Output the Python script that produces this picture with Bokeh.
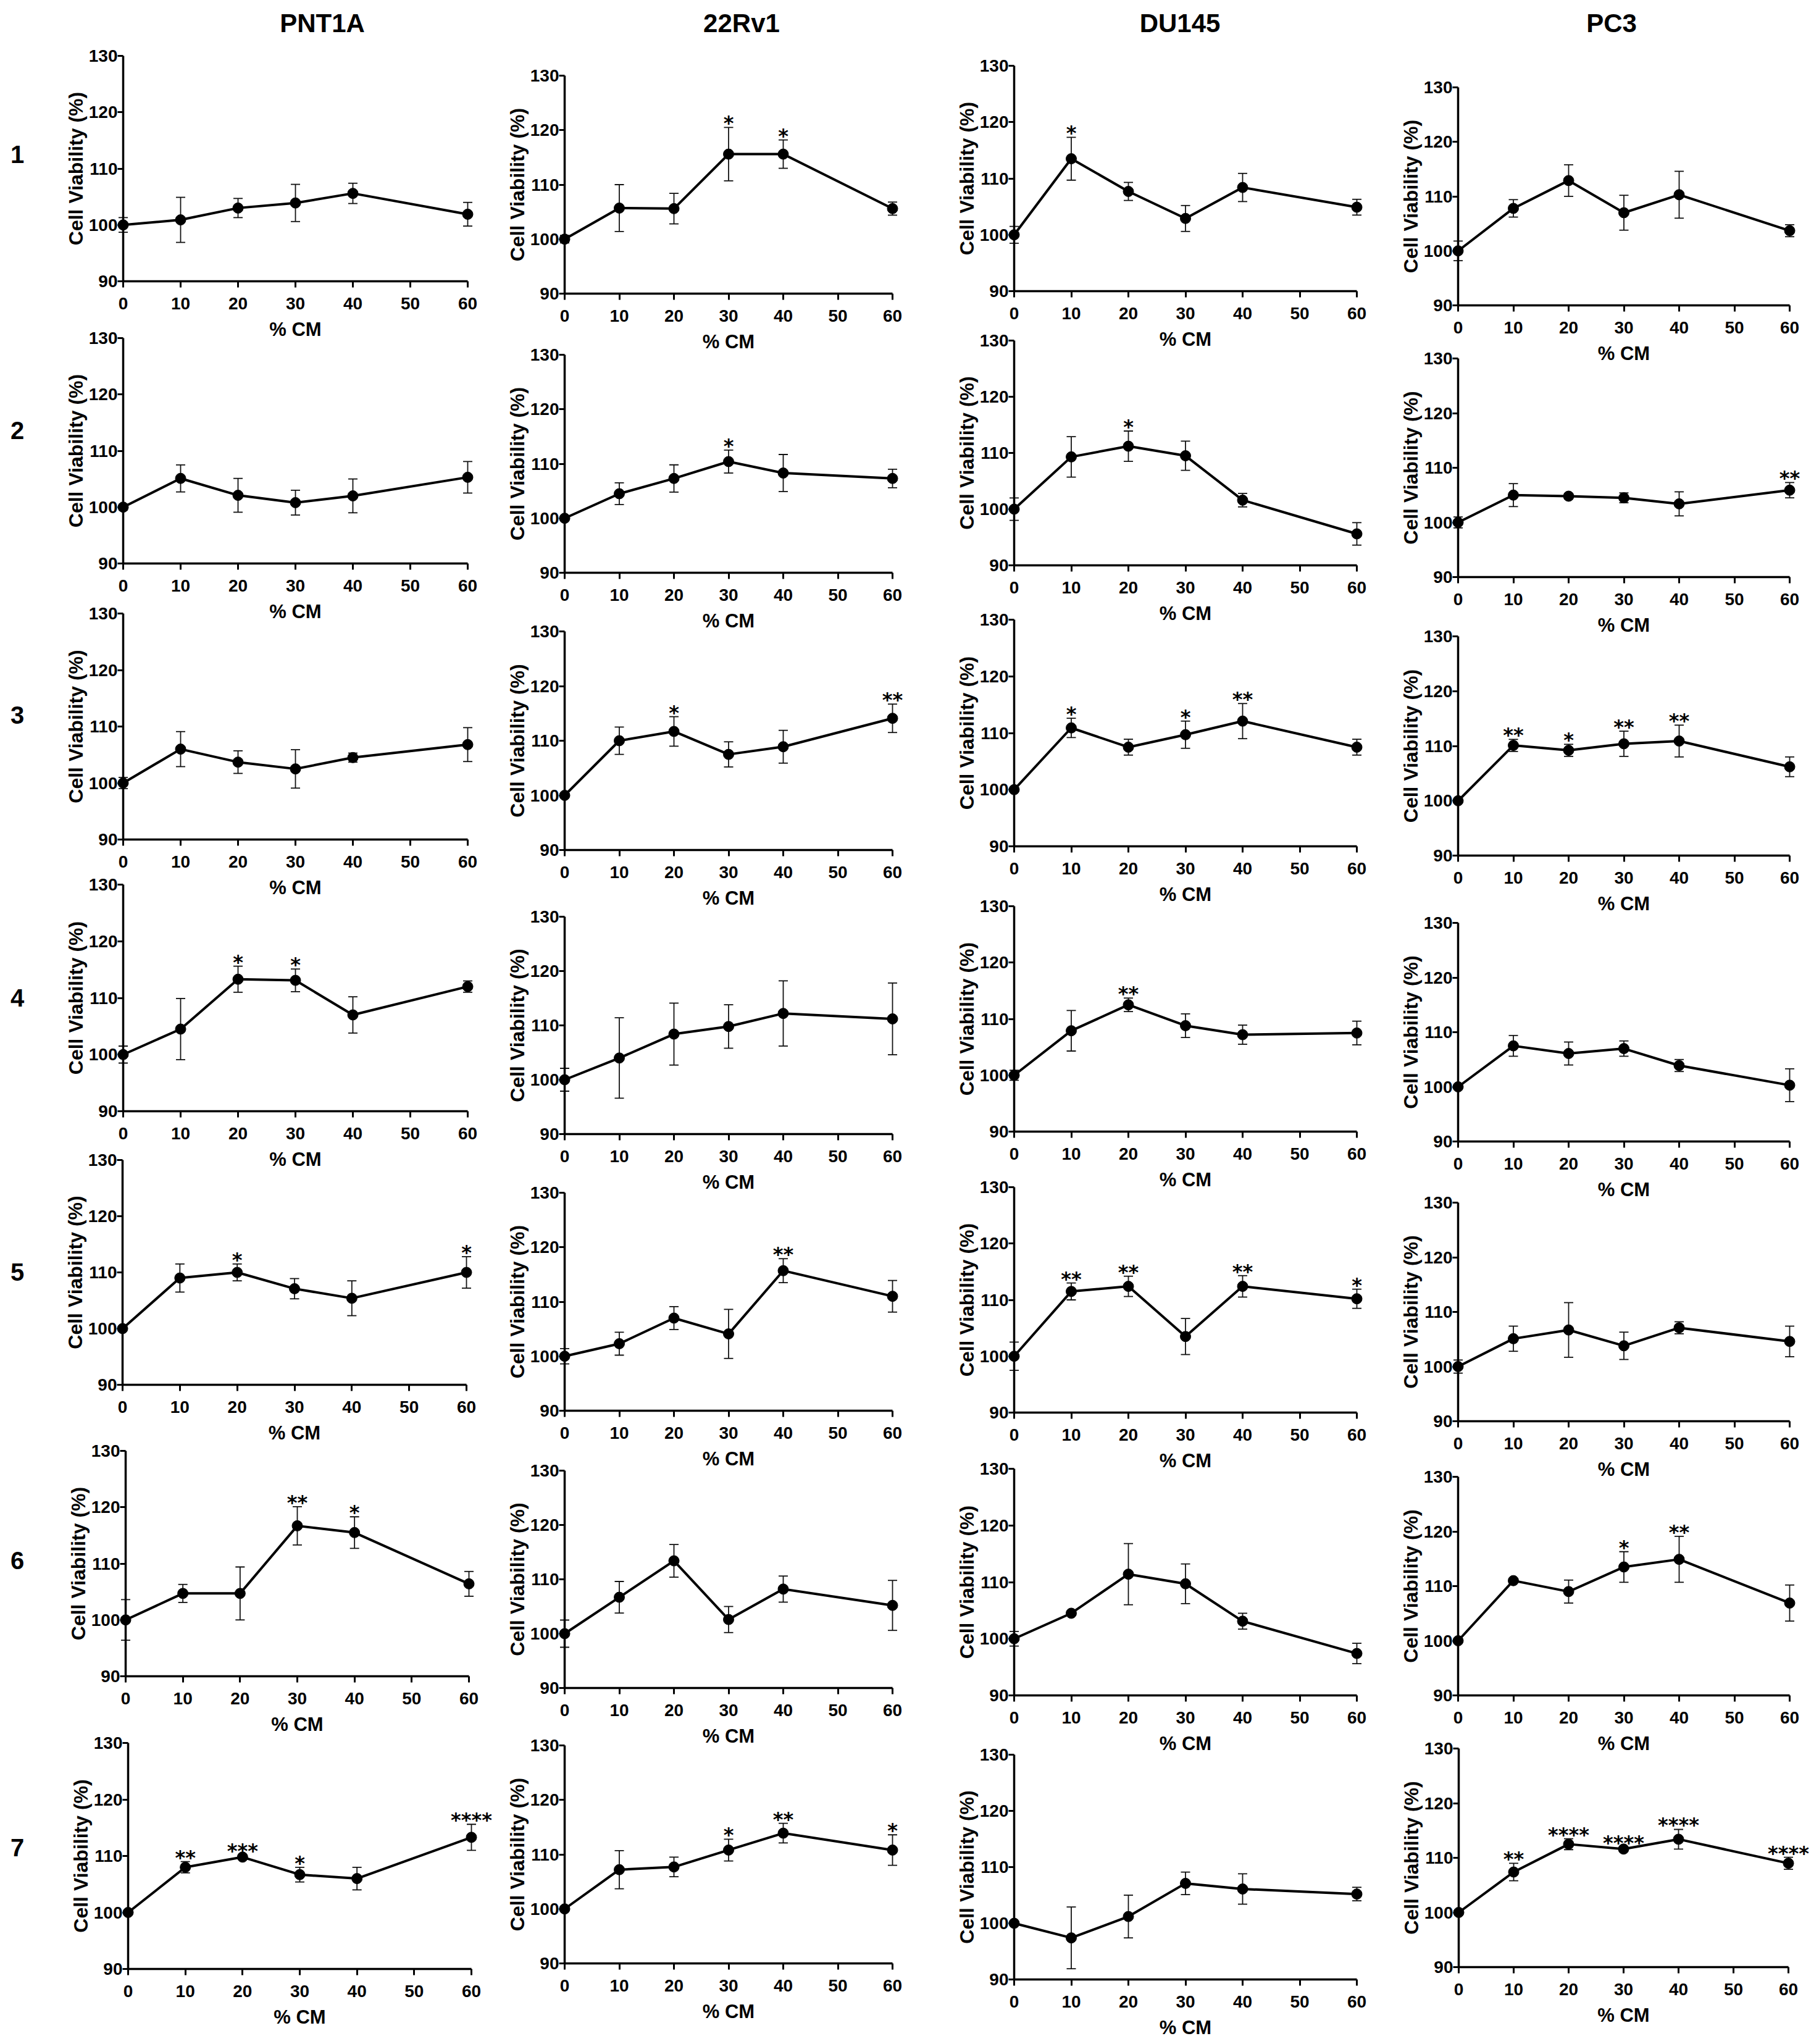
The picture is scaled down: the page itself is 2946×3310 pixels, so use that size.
from bokeh.plotting import figure
from bokeh.layouts import row, column
from bokeh.models import ColumnDataSource, Whisker, TeeHead, FixedTicker, Range1d, Div
from bokeh.embed import file_html
from bokeh.resources import INLINE
from bokeh.core.properties import value

# ---------------- data ----------------
cell_lines = ["PNT1A", "22Rv1", "DU145", "PC3"]
row_labels = ["1", "2", "3", "4", "5", "6", "7"]
cm_percent = [0, 10, 20, 30, 40, 60]
x_tick_values = [0, 10, 20, 30, 40, 50, 60]
y_tick_values = [90, 100, 110, 120, 130]
x_axis_label = "% CM"
y_axis_label = "Cell Viability (%)"

pnt1a_mean = [
    [100, 100.9, 103.0, 103.9, 105.6, 101.9],
    [100, 105.1, 102.1, 100.8, 102.0, 105.3],
    [100, 106.0, 103.7, 102.5, 104.5, 106.8],
    [100, 104.5, 113.3, 113.1, 107.0, 112.0],
    [100, 109.0, 110.0, 107.1, 105.4, 110.0],
    [100, 104.7, 104.7, 116.7, 115.5, 106.4],
    [100, 108.0, 109.8, 106.7, 106.0, 113.3],
]
pnt1a_err = [
    [1.3, 4.0, 1.7, 3.3, 1.8, 2.1],
    [0.5, 2.4, 3.0, 2.2, 3.0, 2.8],
    [1.0, 3.1, 2.0, 3.4, 0.8, 3.0],
    [1.5, 5.4, 2.3, 2.0, 3.2, 1.0],
    [0.3, 2.5, 1.5, 1.8, 3.1, 2.8],
    [3.6, 1.6, 4.7, 3.4, 2.8, 2.2],
    [0.3, 1.0, 0.4, 1.3, 2.0, 2.3],
]
pnt1a_sig = [
    ["", "", "", "", "", ""],
    ["", "", "", "", "", ""],
    ["", "", "", "", "", ""],
    ["", "", "*", "*", "", ""],
    ["", "", "*", "", "", "*"],
    ["", "", "", "**", "*", ""],
    ["", "**", "***", "*", "", "****"],
]

rv1_mean = [
    [100, 105.7, 105.6, 115.6, 115.6, 105.6],
    [100, 104.5, 107.3, 110.4, 108.3, 107.3],
    [100, 110.0, 111.7, 107.5, 108.9, 114.1],
    [100, 104.0, 108.4, 109.8, 112.2, 111.2],
    [100, 102.3, 107.0, 104.1, 115.7, 111.0],
    [100, 106.7, 113.4, 102.6, 108.2, 105.2],
    [100, 107.2, 107.7, 110.8, 113.9, 110.8],
]
rv1_err = [
    [0.7, 4.3, 2.8, 4.9, 2.6, 1.2],
    [0.3, 2.0, 2.5, 2.1, 3.4, 1.7],
    [0.3, 2.5, 2.7, 2.3, 3.0, 2.6],
    [2.1, 7.4, 5.7, 4.0, 6.0, 6.6],
    [1.4, 2.1, 2.1, 4.5, 2.2, 2.9],
    [2.5, 2.9, 3.0, 2.4, 2.4, 4.6],
    [0.3, 3.5, 1.8, 2.0, 1.8, 2.8],
]
rv1_sig = [
    ["", "", "", "*", "*", ""],
    ["", "", "", "*", "", ""],
    ["", "", "*", "", "", "**"],
    ["", "", "", "", "", ""],
    ["", "", "", "", "**", ""],
    ["", "", "", "", "", ""],
    ["", "", "", "*", "**", "*"],
]

du145_mean = [
    [100, 113.5, 107.7, 102.9, 108.4, 104.9],
    [100, 109.3, 111.2, 109.5, 101.6, 95.6],
    [100, 110.9, 107.5, 109.7, 112.1, 107.5],
    [100, 107.9, 112.5, 108.8, 107.2, 107.5],
    [100, 111.5, 112.4, 103.5, 112.4, 110.2],
    [100, 104.5, 111.4, 109.7, 103.1, 97.4],
    [100, 97.4, 101.2, 107.1, 106.1, 105.2],
]
du145_err = [
    [1.5, 3.8, 1.6, 2.3, 2.5, 1.4],
    [2.0, 3.6, 2.7, 2.6, 1.2, 2.0],
    [0.3, 1.7, 1.4, 2.4, 3.1, 1.4],
    [0.9, 3.6, 1.2, 2.1, 1.7, 2.1],
    [2.5, 1.5, 1.8, 3.2, 1.9, 1.7],
    [1.3, 0.4, 5.4, 3.5, 1.4, 1.8],
    [0.3, 5.5, 3.8, 2.0, 2.7, 1.2],
]
du145_sig = [
    ["", "*", "", "", "", ""],
    ["", "", "*", "", "", ""],
    ["", "*", "", "*", "**", ""],
    ["", "", "**", "", "", ""],
    ["", "**", "**", "", "**", "*"],
    ["", "", "", "", "", ""],
    ["", "", "", "", "", ""],
]

pc3_mean = [
    [100, 107.8, 112.9, 107.0, 110.3, 103.7],
    [100, 105.0, 104.8, 104.5, 103.4, 105.9],
    [100, 110.1, 109.2, 110.4, 110.9, 106.2],
    [100, 107.5, 106.1, 107.0, 103.9, 100.3],
    [100, 105.1, 106.7, 103.8, 107.1, 104.6],
    [100, 111.0, 109.0, 113.5, 114.9, 106.9],
    [100, 107.4, 112.5, 111.6, 113.4, 109.0],
]
pc3_err = [
    [1.8, 1.6, 2.9, 3.2, 4.3, 1.1],
    [1.0, 2.1, 0.5, 0.9, 2.2, 1.4],
    [0.3, 1.1, 1.1, 2.3, 2.9, 1.8],
    [0.3, 1.9, 2.1, 1.4, 1.1, 3.0],
    [1.2, 2.3, 5.0, 2.5, 1.1, 2.8],
    [0.3, 0.4, 2.1, 2.8, 4.2, 3.3],
    [0.3, 1.6, 1.0, 0.4, 1.8, 1.1],
]
pc3_sig = [
    ["", "", "", "", "", ""],
    ["", "", "", "", "", "**"],
    ["", "**", "*", "**", "**", ""],
    ["", "", "", "", "", ""],
    ["", "", "", "", "", ""],
    ["", "", "", "*", "**", ""],
    ["", "**", "****", "****", "****", "****"],
]

all_mean = [pnt1a_mean, rv1_mean, du145_mean, pc3_mean]
all_err = [pnt1a_err, rv1_err, du145_err, pc3_err]
all_sig = [pnt1a_sig, rv1_sig, du145_sig, pc3_sig]

# ---------------- layout geometry (page pixels) ----------------
PAGE = 8
RIGHT_EDGE = 2938
BOTTOM_EDGE = 3302
BOX_LEFT_PAD = 115
BOX_RIGHT_PAD = 36

axis_x0 = [[207, 207, 207, 207, 206, 211, 215], [922] * 7, [1650] * 7, [2369] * 6 + [2370]]
axis_x60 = [[765, 765, 765, 765, 763, 767, 771], [1453] * 7, [2205] * 7, [2906] * 6 + [2904]]
axis_y130 = [[98, 555, 1001, 1440, 1886, 2357, 2830],
             [130, 582, 1030, 1492, 1939, 2389, 2834],
             [114, 559, 1011, 1475, 1930, 2386, 2849],
             [149, 588, 1038, 1502, 1955, 2399, 2839]]
axis_y90 = [[463, 920, 1367, 1807, 2250, 2722, 3196],
            [483, 935, 1384, 1844, 2292, 2741, 3187],
            [479, 923, 1378, 1840, 2295, 2753, 3213],
            [502, 942, 1393, 1856, 2309, 2753, 3193]]
title_center_x = [530, 1209, 1919, 2618]
title_center_y = 46
row_label_center_y = [258, 705, 1166, 1624, 2068, 2535, 3000]
LABEL_COL_W = 56

FONT = "Liberation Sans"


def build_panel(mean, err, sig, x0, x60, y130, y90):
    sx = (x60 - x0) / 60.0
    sy = (y90 - y130) / 40.0
    box_left = round(x0 - BOX_LEFT_PAD)
    box_right = min(round(x60 + BOX_RIGHT_PAD), RIGHT_EDGE)
    box_top = round(y130 - 25)
    box_bottom = min(round(y90 + 110), BOTTOM_EDGE)
    w = box_right - box_left
    h = box_bottom - box_top
    # the frame fills the whole figure; ranges chosen so that the axes land where wanted
    xs = (box_left - x0) / sx
    xe = xs + w / sx
    ye = 130 + (y130 - box_top) / sy
    ys = ye - h / sy

    p = figure(width=w, height=h,
               x_range=Range1d(xs, xe), y_range=Range1d(ys, ye),
               min_border_left=0, min_border_right=0,
               min_border_top=0, min_border_bottom=0,
               toolbar_location=None, output_backend="svg",
               background_fill_color=None, border_fill_color=None,
               outline_line_color=None)
    p.grid.visible = False

    upper = [m + e for m, e in zip(mean, err)]
    lower = [m - e for m, e in zip(mean, err)]
    src = ColumnDataSource(dict(x=cm_percent, y=mean, upper=upper, lower=lower, sig=sig))

    p.add_layout(Whisker(source=src, base="x", upper="upper", lower="lower",
                         dimension="height", line_width=1.8, line_color="#111111",
                         upper_head=TeeHead(size=15, line_width=1.8, line_color="#111111"),
                         lower_head=TeeHead(size=15, line_width=1.8, line_color="#111111")))
    p.line("x", "y", source=src, line_width=4, line_color="black")
    p.scatter("x", "y", source=src, size=17, fill_color="black", line_color="black")
    p.text("x", "upper", text="sig", source=src, text_align="center",
           text_baseline="alphabetic", text_font=value("DejaVu Sans"),
           text_font_style="bold", text_font_size="32px", text_color="black", y_offset=-7)

    for ax in (p.xaxis[0], p.yaxis[0]):
        ax.axis_line_width = 3.5
        ax.axis_line_color = "black"
        ax.major_tick_line_width = 3
        ax.major_tick_line_color = "black"
        ax.major_tick_in = 0
        ax.major_tick_out = 9
        ax.minor_tick_line_color = None
        ax.major_label_text_font = FONT
        ax.major_label_text_font_style = "bold"
        ax.major_label_text_font_size = "28px"
        ax.major_label_text_color = "black"
        ax.axis_label_text_font = FONT
        ax.axis_label_text_font_style = "bold"
        ax.axis_label_text_color = "black"

    xa = p.xaxis[0]
    xa.fixed_location = 90
    xa.bounds = (0, 60)
    xa.ticker = FixedTicker(ticks=x_tick_values)
    xa.major_tick_out = 10
    xa.major_label_standoff = 16
    xa.axis_label = x_axis_label
    xa.axis_label_text_font_size = "31px"
    xa.axis_label_standoff = 12

    ya = p.yaxis[0]
    ya.fixed_location = 0
    ya.bounds = (90, 130)
    ya.ticker = FixedTicker(ticks=y_tick_values)
    ya.major_label_standoff = 0
    ya.axis_label = y_axis_label
    ya.axis_label_text_font_size = "32px"
    ya.axis_label_standoff = 0

    return p, (box_left, box_top, w, h)


def flow_column(items, col_left, col_width):
    cur = PAGE
    models = []
    for m, l, t, w, h in sorted(items, key=lambda it: it[2]):
        ml = l - col_left
        mr = col_width - ml - w
        m.margin = (t - cur, mr, 0, ml)
        cur = t + h
        models.append(m)
    return column(*models, spacing=0, width=col_width)


def text_div(text, size, w, h):
    return Div(text=text, width=w, height=h,
               styles={"font-family": FONT + ", Arial, sans-serif", "font-size": size,
                       "font-weight": "bold", "text-align": "center",
                       "line-height": f"{h}px", "color": "black"})


# build all panels first, then derive column boundaries so every figure fits its column
panel_items = []
for c, name in enumerate(cell_lines):
    items = []
    for r in range(7):
        p, box = build_panel(all_mean[c][r], all_err[c][r], all_sig[c][r],
                             axis_x0[c][r], axis_x60[c][r],
                             axis_y130[c][r], axis_y90[c][r])
        items.append((p,) + box)
    panel_items.append(items)

column_left = [PAGE + LABEL_COL_W] + [min(it[1] for it in panel_items[c]) for c in range(1, 4)]
column_right = column_left[1:] + [RIGHT_EDGE]

# row labels column
label_items = []
for r, lab in enumerate(row_labels):
    d = text_div(lab, "40px", LABEL_COL_W, 60)
    label_items.append((d, PAGE, row_label_center_y[r] - 30, LABEL_COL_W, 60))
columns = [flow_column(label_items, PAGE, LABEL_COL_W)]

for c, name in enumerate(cell_lines):
    t = text_div(name, "42px", 300, 60)
    items = [(t, title_center_x[c] - 150, title_center_y - 30, 300, 60)] + panel_items[c]
    columns.append(flow_column(items, column_left[c], column_right[c] - column_left[c]))

layout = row(*columns, spacing=0)

open("out.html", "w").write(file_html(layout, INLINE))
